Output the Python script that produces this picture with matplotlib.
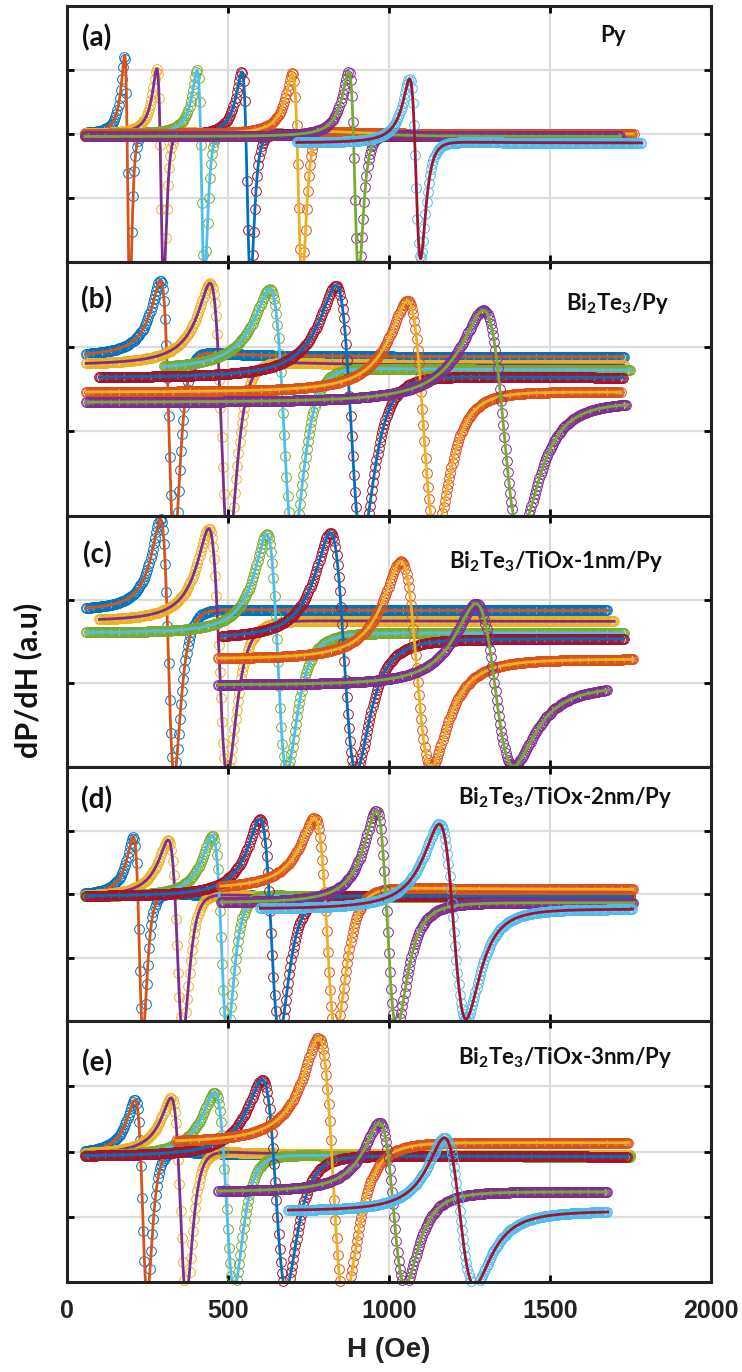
import numpy as np
import matplotlib.pyplot as plt

plt.rcParams['mathtext.fontset'] = 'custom'
plt.rcParams['mathtext.bf'] = 'Lato:bold'
plt.rcParams['mathtext.rm'] = 'Lato:bold'
plt.rcParams['mathtext.default'] = 'bf'

# MATLAB default colour order (markers and fits share the cycle)
colors = ['#0072BD', '#D95319', '#EDB120', '#7E2F8E', '#77AC30', '#4DBEEE', '#A2142F']

names = ['(a)', '(b)', '(c)', '(d)', '(e)']
samples = ['Py', r'Bi$_2$Te$_3$/Py', r'Bi$_2$Te$_3$/TiOx-1nm/Py',
           r'Bi$_2$Te$_3$/TiOx-2nm/Py', r'Bi$_2$Te$_3$/TiOx-3nm/Py']

# field of the positive peak / negative dip (Oe),
# signal at peak and dip, baseline level, and field range of each sweep
peak_a = [179, 279, 404, 543, 700, 875, 1064]
dip_a = [195, 300, 427, 570, 730, 906, 1098]
top_a = [1.23, 1.02, 1.00, 0.97, 0.95, 0.97, 0.86]
low_a = [-2.6, -2.3, -2.3, -2.3, -2.3, -2.2, -1.95]
base_a = [0.0, 0.0, 0.0, -0.03, 0.0, -0.04, -0.14]
start_a = [55, 55, 55, 55, 55, 55, 714]
end_a = [1720, 1740, 1750, 1730, 1760, 1720, 1785]

peak_b = [290, 444, 629, 835, 1057, 1293]
dip_b = [333, 502, 703, 916, 1145, 1407]
top_b = [1.28, 1.25, 1.18, 1.22, 1.04, 0.93]
low_b = [-1.9, -1.9, -1.8, -1.8, -1.7, -1.7]
base_b = [0.38, 0.28, 0.22, 0.13, -0.04, -0.16]
start_b = [60, 60, 300, 100, 60, 60]
end_b = [1730, 1730, 1750, 1730, 1720, 1740]

peak_c = [290, 440, 620, 818, 1037, 1270]
dip_c = [333, 498, 683, 898, 1131, 1387]
top_c = [1.46, 1.35, 1.28, 1.30, 0.96, 0.45]
low_c = [-1.6, -1.6, -1.55, -1.55, -1.5, -1.48]
base_c = [0.37, 0.24, 0.10, 0.03, -0.21, -0.52]
start_c = [60, 100, 60, 480, 470, 470]
end_c = [1680, 1700, 1730, 1730, 1760, 1680]

peak_d = [206, 314, 451, 599, 768, 960, 1156]
dip_d = [236, 360, 498, 660, 835, 1024, 1239]
top_d = [0.90, 0.85, 0.92, 1.18, 1.20, 1.31, 1.10]
low_d = [-2.2, -2.2, -2.2, -2.2, -2.2, -2.1, -1.97]
base_d = [-0.03, -0.05, -0.05, -0.04, 0.07, -0.14, -0.24]
start_d = [55, 55, 55, 60, 478, 478, 600]
end_d = [1750, 1750, 1750, 1750, 1760, 1760, 1757]

peak_e = [211, 323, 458, 606, 781, 970, 1172]
dip_e = [249, 370, 519, 680, 862, 1050, 1266]
top_e = [0.79, 0.82, 0.90, 1.10, 1.74, 0.44, 0.21]
low_e = [-2.2, -2.2, -2.1, -2.1, -2.3, -2.05, -2.05]
base_e = [-0.05, -0.05, -0.08, -0.08, 0.13, -0.62, -0.91]
start_e = [55, 55, 55, 55, 340, 470, 687]
end_e = [1750, 1750, 1750, 1740, 1745, 1680, 1680]

panels = [
    (peak_a, dip_a, top_a, low_a, base_a, start_a, end_a),
    (peak_b, dip_b, top_b, low_b, base_b, start_b, end_b),
    (peak_c, dip_c, top_c, low_c, base_c, start_c, end_c),
    (peak_d, dip_d, top_d, low_d, base_d, start_d, end_d),
    (peak_e, dip_e, top_e, low_e, base_e, start_e, end_e),
]
ylims = [(-2, 2), (-1.5, 1.5), (-1.5, 1.5), (-2, 2), (-2, 2)]
yticks = [[-1, 0, 1], [-0.5, 0.5], [-0.5, 0.5], [-1, 0, 1], [-1, 0, 1]]


def lineshape(x, r):
    # dispersive + absorptive derivative of a Lorentzian
    anti = -2 * x / (1 + x**2)**2 / 0.6495
    sym = (1 - x**2) / (1 + x**2)**2
    return anti - r * sym


xs = np.linspace(-6, 6, 4801)
rs = np.linspace(0, 4, 801)
ratios = np.array([-lineshape(xs, r).min() / lineshape(xs, r).max() for r in rs])


def fmr_fit(H, hp, hd, top, low, base):
    ratio = (base - low) / (top - base)
    r = rs[np.argmin(abs(ratios - ratio))]
    g = lineshape(xs, r)
    xp, xd = xs[np.argmax(g)], xs[np.argmin(g)]
    w = (hd - hp) / (xd - xp)
    hr = hp - xp * w
    amp = (top - base) / g.max()
    return base + amp * lineshape((H - hr) / w, r)


fig = plt.figure(figsize=(7.42, 13.72), dpi=100)
W, Hpx = 742, 1372
edges = [6, 262, 516, 767, 1021, 1282]
left, right = 67, 711

for k in range(5):
    ax = fig.add_axes([left / W, 1 - edges[k + 1] / Hpx,
                       (right - left) / W, (edges[k + 1] - edges[k]) / Hpx])
    ylo, yhi = ylims[k]
    hp_l, hd_l, top_l, low_l, base_l, st_l, en_l = panels[k]
    for i in range(len(hp_l)):
        Hline = np.arange(st_l[i], en_l[i], 1.0)
        Hdat = np.arange(st_l[i], en_l[i], 3.5)
        yline = fmr_fit(Hline, hp_l[i], hd_l[i], top_l[i], low_l[i], base_l[i])
        ydat = fmr_fit(Hdat, hp_l[i], hd_l[i], top_l[i], low_l[i], base_l[i])
        keep = (ydat >= ylo) & (ydat <= yhi)
        ax.plot(Hdat[keep], ydat[keep], 'o', mfc='none', mec=colors[(2 * i) % 7],
                ms=7, mew=0.7, clip_on=False)
        ax.plot(Hline, yline, '-', color=colors[(2 * i + 1) % 7], lw=2)
    ax.set_xlim(0, 2000)
    ax.set_ylim(ylo, yhi)
    ax.set_xticks([0, 500, 1000, 1500, 2000])
    ax.set_yticks(yticks[k])
    ax.set_yticklabels([])
    ax.grid(True, color='#dcdcdc', lw=1.6)
    ax.set_axisbelow(True)
    ax.tick_params(direction='in', length=5, width=2, top=True, right=True)
    for s in ax.spines.values():
        s.set_linewidth(2.2)
        s.set_color('#222222')
    if k < 4:
        ax.set_xticklabels([])
    else:
        ax.tick_params(axis='x', pad=12)
        for t in ax.get_xticklabels():
            t.set_fontfamily('Liberation Sans')
            t.set_fontweight('bold')
            t.set_fontsize(18)
            t.set_color('#222222')

# panel letters and sample names, placed in pixels
letter_y = [38, 300, 555, 800, 1063]
name_x = [613, 618, 556, 565, 565]
name_y = [35, 303, 561, 798, 1058]
for k in range(5):
    fig.text(97 / W, 1 - letter_y[k] / Hpx, names[k], fontfamily='Lato',
             fontweight='bold', fontsize=20, ha='center', va='center', color='#111111')
    fig.text(name_x[k] / W, 1 - name_y[k] / Hpx, samples[k], fontfamily='Lato',
             fontweight='bold', fontsize=16, ha='center', va='center', color='#111111')

fig.text(389 / W, 1 - 1350 / Hpx, 'H (Oe)', fontfamily='Liberation Sans',
         fontweight='bold', fontsize=20, ha='center', va='center', color='#222222')
fig.text(28 / W, 1 - 680 / Hpx, 'dP/dH (a.u)', fontfamily='Lato', fontweight='bold',
         fontsize=22, rotation=90, ha='center', va='center', color='#111111')

fig.savefig('out.png', dpi=100)
